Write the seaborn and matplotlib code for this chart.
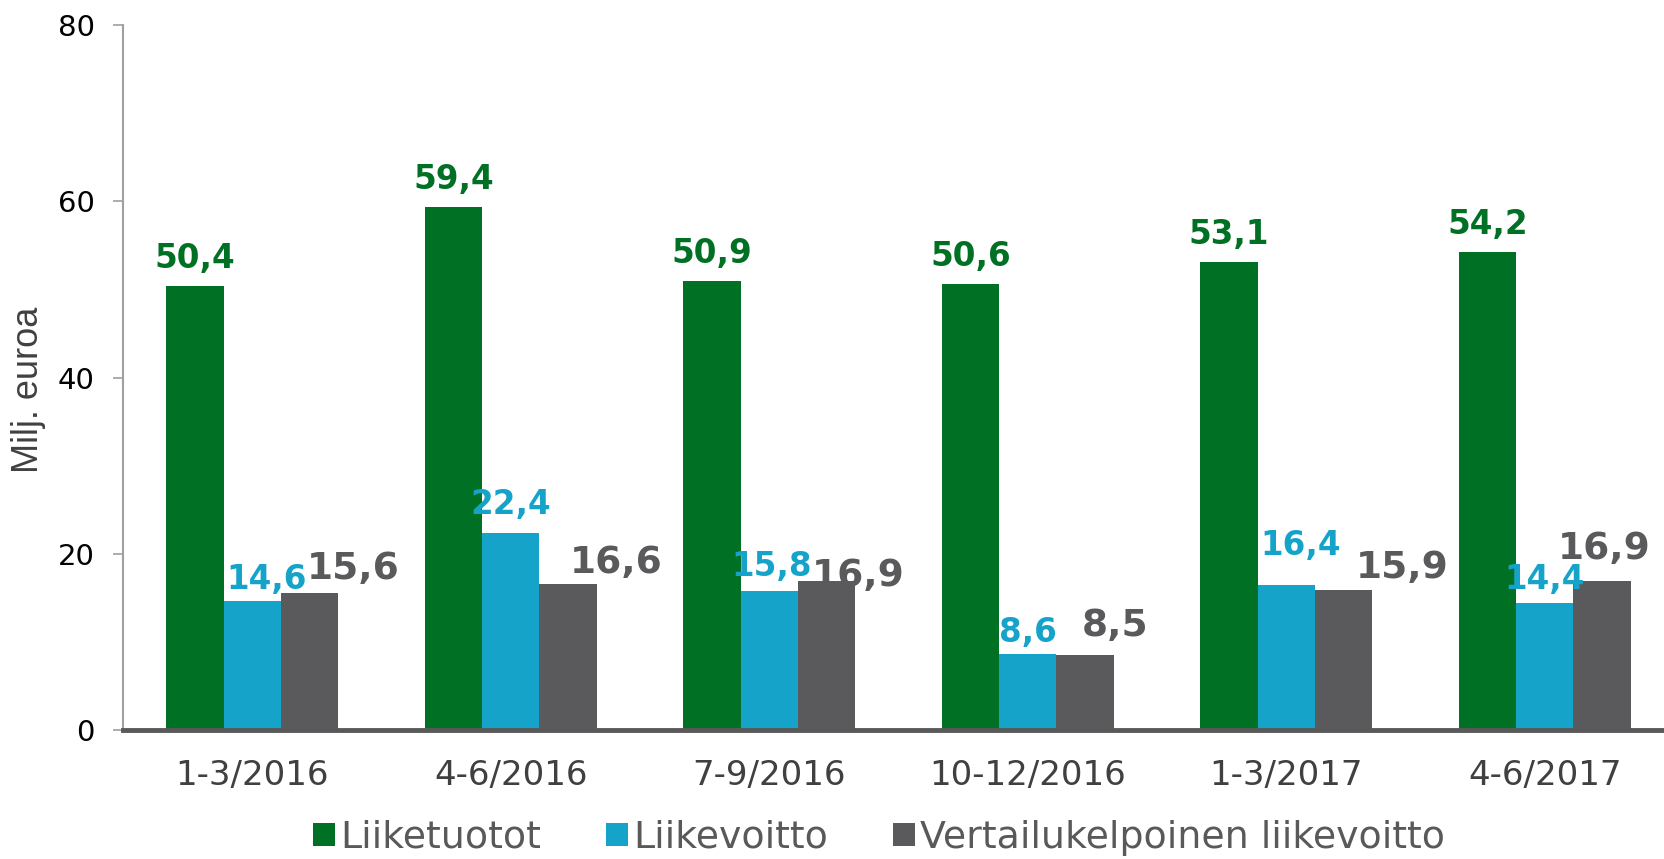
import matplotlib
matplotlib.use("Agg")
import pandas as pd
import matplotlib.pyplot as plt
import seaborn as sns
from matplotlib.patches import Patch

# ── data ─────────────────────────────────────────────────────────
quarters = ["1-3/2016", "4-6/2016", "7-9/2016", "10-12/2016", "1-3/2017", "4-6/2017"]
liiketuotot = [50.4, 59.4, 50.9, 50.6, 53.1, 54.2]
liikevoitto = [14.6, 22.4, 15.8, 8.6, 16.4, 14.4]
vertailukelpoinen = [15.6, 16.6, 16.9, 8.5, 15.9, 16.9]
series_names = ["Liiketuotot", "Liikevoitto", "Vertailukelpoinen liikevoitto"]
y_ticks = [0, 20, 40, 60, 80]

# ── style ────────────────────────────────────────────────────────
colors = {"Liiketuotot": "#007024",
          "Liikevoitto": "#16A3CA",
          "Vertailukelpoinen liikevoitto": "#5A5A5C"}
label_size = {"Liiketuotot": 23.5, "Liikevoitto": 23.5,
              "Vertailukelpoinen liikevoitto": 27}
# hand-placed label nudges (pixels): dx from bar centre, gap above bar top
nudge_dx = {"Liiketuotot": [0, 0, 0, 0, 0, 0],
            "Liikevoitto": [14, 0, 2, 0, 14, 0],
            "Vertailukelpoinen liikevoitto": [44, 48, 32, 30, 59, 2]}
nudge_gap = {"Liiketuotot": [18, 18, 18, 18, 18, 18],
             "Liikevoitto": [12, 19, 15, 12, 30, 14],
             "Vertailukelpoinen liikevoitto": [14, 11, -5, 19, 12, 22]}

df = pd.DataFrame({
    "quarter": quarters * 3,
    "series": [s for s in series_names for _ in quarters],
    "value": liiketuotot + liikevoitto + vertailukelpoinen,
})

sns.set_theme(style="white")
plt.rcParams["font.family"] = ["DejaVu Sans"]

W, H = 1664, 859
fig = plt.figure(figsize=(W / 100, H / 100), dpi=100)
ax = fig.add_axes([123 / W, 1 - 730 / H, (W - 123) / W, (730 - 25) / H])

sns.barplot(data=df, x="quarter", y="value", hue="series", order=quarters,
            hue_order=series_names, palette=colors, saturation=1,
            width=0.665, gap=0, errorbar=None, legend=False, ax=ax,
            edgecolor="none", linewidth=0)

ax.set_xlim(-0.5, 5.5 - 10 / 258.7)
ax.set_ylim(0, 80)
ax.set_yticks(y_ticks)
ax.set_yticklabels([str(t) for t in y_ticks], fontsize=21, color="black")
ax.tick_params(axis="y", left=True, length=7, width=1.2, color="#A0A0A0", pad=13.5)
ax.tick_params(axis="x", bottom=False, labelsize=24.5, labelcolor="#404040", pad=15)
ax.set_xlabel("")
ax.set_ylabel("")
fig.text(29 / W, 1 - 390 / H, "Milj. euroa", rotation=90, ha="center", va="center",
         fontsize=26, color="#404040", family=["Liberation Sans", "DejaVu Sans"])

for side in ["top", "right"]:
    ax.spines[side].set_visible(False)
ax.spines["left"].set_color("#A0A0A0")
ax.spines["left"].set_linewidth(1.5)
ax.spines["bottom"].set_color("#595959")
ax.spines["bottom"].set_linewidth(3.5)
ax.spines["bottom"].set_zorder(5)

# ── value labels ─────────────────────────────────────────────────
for name, cont in zip(series_names, ax.containers):
    for i, bar in enumerate(cont):
        v = bar.get_height()
        ax.annotate(f"{v:.1f}".replace(".", ","),
                    (bar.get_x() + bar.get_width() / 2, v),
                    xytext=(nudge_dx[name][i], nudge_gap[name][i]),
                    textcoords="offset pixels", ha="center", va="baseline",
                    fontsize=label_size[name], fontweight="bold",
                    color=colors[name], zorder=6)

# ── legend ───────────────────────────────────────────────────────
handles = [Patch(facecolor=colors[s], edgecolor="none") for s in series_names]
fig.legend(handles, series_names, loc="center", bbox_to_anchor=(879 / W, 1 - 838 / H),
           ncol=3, frameon=False, fontsize=27.3, labelcolor="#595959",
           handlelength=0.58, handleheight=0.55, handletextpad=0.15,
           columnspacing=1.7, borderaxespad=0)

fig.savefig("out.png", dpi=100)
